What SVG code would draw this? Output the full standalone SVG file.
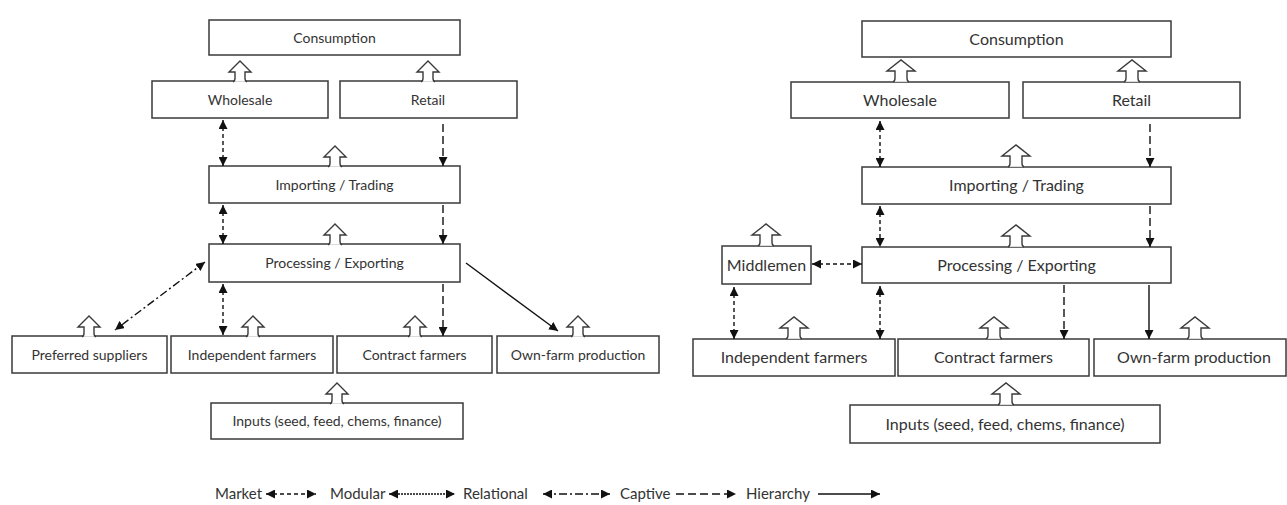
<svg xmlns="http://www.w3.org/2000/svg" xmlns:xlink="http://www.w3.org/1999/xlink" width="1287" height="505" viewBox="0 0 1287 505">
<style>
.box{fill:#fff;stroke:#3a3a3a;stroke-width:1.5}
.hol{fill:#fff;stroke:#3a3a3a;stroke-width:1.4;stroke-linejoin:miter}
.t{font-family:Lato,"Open Sans","Liberation Sans",sans-serif;fill:#333;text-anchor:middle}
.tl{font-size:14px}
.tr{font-size:16px}
.lg{font-size:15px;text-anchor:start}
.c{fill:none;stroke:#111;stroke-width:1.4}
.mk{stroke-dasharray:4 3}
.md{stroke-dasharray:2 1}
.rl{stroke-dasharray:8 3 2 3}
.cp{stroke-dasharray:8 4}
.dbl{marker-start:url(#ah);marker-end:url(#ah)}
.one{marker-end:url(#ah)}
</style>
<defs>
<marker id="ah" markerUnits="userSpaceOnUse" markerWidth="9" markerHeight="9" viewBox="0 0 9 9" refX="9" refY="4.5" orient="auto-start-reverse">
<path d="M0,0 L9,4.5 L0,9 Z" fill="#111"/>
</marker>
<path id="hl" class="hol" d="M-7,20.8 Q-5,20.5 -5,17 L-5,11 L-11,11 L0,0 L11,11 L5,11 L5,17 Q5,20.5 7,20.8"/>
<path id="hr" class="hol" d="M-8,21.8 Q-6,21.5 -6,18 L-6,11 L-14,11 L0,0 L14,11 L6,11 L6,18 Q6,21.5 8,21.8"/>
</defs>

<g id="left-diagram">
<g id="L-consumption"><rect class="box" x="209" y="20" width="251" height="35"/><text class="t tl" x="334.5" y="42.5">Consumption</text></g>
<g id="L-wholesale"><rect class="box" x="152" y="81" width="176" height="37"/><text class="t tl" x="240" y="104.5">Wholesale</text><use xlink:href="#hl" x="240" y="61"/></g>
<g id="L-retail"><rect class="box" x="340" y="81" width="177" height="37"/><text class="t tl" x="428" y="104.5">Retail</text><use xlink:href="#hl" x="428" y="61"/></g>
<g id="L-importing"><rect class="box" x="209" y="166" width="251" height="37"/><text class="t tl" x="334.5" y="189.5">Importing / Trading</text><use xlink:href="#hl" x="335" y="146"/></g>
<g id="L-processing"><rect class="box" x="209" y="244" width="251" height="38"/><text class="t tl" x="334.5" y="268">Processing / Exporting</text><use xlink:href="#hl" x="335" y="224"/></g>
<g id="L-preferred"><rect class="box" x="12" y="336" width="155" height="37"/><text class="t tl" x="89.5" y="359.5">Preferred suppliers</text><use xlink:href="#hl" x="89" y="316"/></g>
<g id="L-independent"><rect class="box" x="171" y="336" width="162" height="37"/><text class="t tl" x="252" y="359.5">Independent farmers</text><use xlink:href="#hl" x="253" y="316"/></g>
<g id="L-contract"><rect class="box" x="337" y="336" width="155" height="37"/><text class="t tl" x="414.5" y="359.5">Contract farmers</text><use xlink:href="#hl" x="415" y="316"/></g>
<g id="L-ownfarm"><rect class="box" x="497" y="336" width="162" height="37"/><text class="t tl" x="578" y="359.5">Own-farm production</text><use xlink:href="#hl" x="578" y="316"/></g>
<g id="L-inputs"><rect class="box" x="211" y="403" width="252" height="36"/><text class="t tl" x="337" y="426">Inputs (seed, feed, chems, finance)</text><use xlink:href="#hl" x="337" y="383"/></g>
</g>

<g id="right-diagram">
<g id="R-consumption"><rect class="box" x="862" y="21" width="309" height="36"/><text class="t tr" x="1016.5" y="44.5">Consumption</text></g>
<g id="R-wholesale"><rect class="box" x="791" y="82" width="218" height="36"/><text class="t tr" x="900" y="105.5">Wholesale</text><use xlink:href="#hr" x="901" y="60"/></g>
<g id="R-retail"><rect class="box" x="1023" y="82" width="217" height="36"/><text class="t tr" x="1131.5" y="105.5">Retail</text><use xlink:href="#hr" x="1132" y="60"/></g>
<g id="R-importing"><rect class="box" x="862" y="167" width="309" height="37"/><text class="t tr" x="1016.5" y="191">Importing / Trading</text><use xlink:href="#hr" x="1016" y="145"/></g>
<g id="R-processing"><rect class="box" x="862" y="247" width="309" height="36"/><text class="t tr" x="1016.5" y="270.5">Processing / Exporting</text><use xlink:href="#hr" x="1016" y="225"/></g>
<g id="R-middlemen"><rect class="box" x="722" y="246" width="89" height="38"/><text class="t tr" x="766.5" y="270.5">Middlemen</text><use xlink:href="#hr" x="766" y="224"/></g>
<g id="R-independent"><rect class="box" x="693" y="339" width="202" height="37"/><text class="t tr" x="794" y="362.5">Independent farmers</text><use xlink:href="#hr" x="794" y="317"/></g>
<g id="R-contract"><rect class="box" x="898" y="339" width="191" height="37"/><text class="t tr" x="993.5" y="362.5">Contract farmers</text><use xlink:href="#hr" x="994" y="317"/></g>
<g id="R-ownfarm"><rect class="box" x="1094" y="339" width="192" height="37"/><text class="t tr" x="1194" y="362.5">Own-farm production</text><use xlink:href="#hr" x="1195" y="317"/></g>
<g id="R-inputs"><rect class="box" x="850" y="405" width="310" height="38"/><text class="t tr" x="1005" y="429.5">Inputs (seed, feed, chems, finance)</text><use xlink:href="#hr" x="1006" y="383"/></g>
</g>

<g id="connectors">
<line class="c mk dbl" x1="223" y1="120" x2="223" y2="166"/>
<line class="c mk dbl" x1="223" y1="205" x2="223" y2="244"/>
<line class="c mk dbl" x1="223" y1="284" x2="223" y2="335"/>
<line class="c cp one" x1="443" y1="124" x2="443" y2="166"/>
<line class="c cp one" x1="443" y1="205" x2="443" y2="244"/>
<line class="c cp one" x1="443" y1="284" x2="443" y2="336"/>
<line class="c rl dbl" x1="205" y1="262" x2="115" y2="330"/>
<line class="c one" x1="466" y1="263" x2="558" y2="331"/>

<line class="c mk dbl" x1="880" y1="121" x2="880" y2="167"/>
<line class="c mk dbl" x1="880" y1="206" x2="880" y2="247"/>
<line class="c mk dbl" x1="880" y1="286" x2="880" y2="339"/>
<line class="c cp one" x1="1150" y1="124" x2="1150" y2="167"/>
<line class="c cp one" x1="1150" y1="206" x2="1150" y2="247"/>
<line class="c mk dbl" x1="812" y1="264" x2="862" y2="264"/>
<line class="c mk dbl" x1="734" y1="287" x2="734" y2="339"/>
<line class="c cp one" x1="1064" y1="285" x2="1064" y2="339"/>
<line class="c one" x1="1149" y1="285" x2="1149" y2="339"/>
</g>

<g id="legend">
<text class="t lg" x="215" y="499">Market</text>
<line class="c mk dbl" x1="266" y1="494" x2="316" y2="494"/>
<text class="t lg" x="330" y="499">Modular</text>
<line class="c md dbl" x1="389" y1="494" x2="455" y2="494"/>
<text class="t lg" x="463" y="499">Relational</text>
<line class="c rl dbl" x1="543" y1="494" x2="610" y2="494"/>
<text class="t lg" x="620" y="499">Captive</text>
<line class="c cp one" x1="676" y1="494" x2="736" y2="494"/>
<text class="t lg" x="746" y="499">Hierarchy</text>
<line class="c one" x1="818" y1="494" x2="880" y2="494"/>
</g>
</svg>
